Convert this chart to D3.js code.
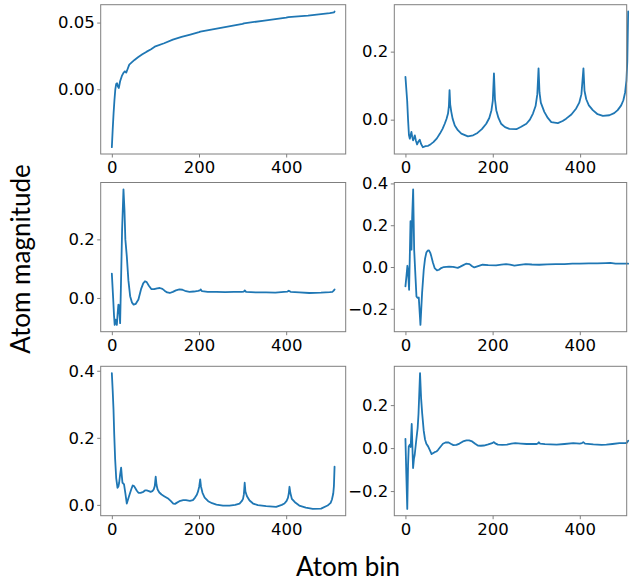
<!DOCTYPE html>
<html>
<head>
<meta charset="utf-8">
<script src="https://cdn.jsdelivr.net/npm/d3@7/dist/d3.min.js"></script>
<style>
  html, body { margin: 0; padding: 0; background: #fff; }
  svg { display: block; }
</style>
</head>
<body>
<svg id="chart" width="638" height="583"></svg>
<script>
// ---------- DATA ----------
const xTicks = [0, 200, 400];

const atom1 = [[0,-0.0434],[2,-0.030],[4,-0.018],[6,-0.008],[8,0.000],[10,0.0040],[12,0.0045],[14,0.0020],[16,0.0010],[19,0.0060],[23,0.0100],[27,0.0125],[30,0.0135],[33,0.0125],[36,0.0150],[40,0.0185],[45,0.0200],[52,0.0220],[60,0.0240],[70,0.0262],[80,0.0282],[90,0.0300],[100,0.0322],[120,0.0345],[140,0.0372],[160,0.0392],[180,0.0410],[200,0.0428],[203,0.0432],[250,0.0460],[300,0.0490],[303,0.0494],[350,0.0515],[400,0.0537],[405,0.0541],[450,0.0552],[500,0.0570],[510,0.0576],[511,0.0583]];
const atom1Ticks = [0.00, 0.05];

const atom2 = [[0,0.126],[2,0.090],[4,0.055],[6,0.0],[8,-0.045],[10,-0.056],[12,-0.045],[13.7,-0.036],[15.5,-0.050],[17.5,-0.061],[20,-0.052],[21.5,-0.046],[24,-0.062],[26.7,-0.073],[29,-0.066],[32.8,-0.059],[36,-0.072],[40,-0.081],[46,-0.078],[52,-0.077],[58,-0.072],[64,-0.066],[72,-0.055],[79,-0.041],[85,-0.027],[90,-0.012],[94,0.002],[97.5,0.018],[99.5,0.040],[101,0.087],[102.5,0.045],[105,0.023],[108,0.003],[113,-0.017],[120,-0.031],[128,-0.041],[143,-0.049],[155,-0.046],[165,-0.039],[175,-0.028],[185,-0.012],[192,0.005],[197,0.028],[200,0.055],[202.7,0.136],[205,0.060],[208,0.028],[213,0.005],[219,-0.012],[228,-0.022],[238,-0.027],[254,-0.028],[265,-0.021],[277,-0.012],[285,0.000],[292,0.018],[298,0.040],[302,0.075],[304.8,0.151],[307,0.080],[310,0.050],[318,0.023],[326,0.005],[334,-0.007],[349,-0.010],[360,-0.004],[368,0.003],[380,0.015],[391,0.033],[398,0.050],[403,0.075],[407.6,0.151],[410,0.085],[414,0.060],[420,0.042],[429,0.028],[440,0.016],[452,0.011],[467,0.013],[478,0.019],[486,0.028],[494,0.042],[499,0.057],[503,0.080],[506,0.115],[508,0.170],[510,0.318]];
const atom2Ticks = [0.0, 0.2];

const atom3 = [[0,0.083],[3,0.000],[5,-0.060],[6.5,-0.092],[8.5,-0.074],[11.5,-0.092],[13.5,-0.050],[15,-0.023],[16.5,-0.025],[19,-0.086],[21,0.050],[23.5,0.230],[26.7,0.371],[29,0.300],[31,0.200],[34.3,0.143],[38,0.060],[42,0.006],[46,-0.015],[50,-0.023],[55,-0.020],[61,-0.005],[67,0.030],[72,0.050],[76,0.057],[80,0.054],[85,0.042],[91,0.030],[97,0.030],[104,0.033],[110,0.034],[116,0.031],[121,0.025],[127,0.019],[133,0.017],[140,0.021],[147,0.026],[155,0.029],[162,0.028],[170,0.023],[178,0.021],[188,0.022],[198,0.024],[202,0.026],[204,0.029],[207,0.023],[220,0.021],[240,0.021],[260,0.020],[280,0.021],[298,0.021],[303,0.022],[305,0.026],[308,0.021],[330,0.019],[354,0.019],[375,0.018],[395,0.021],[403,0.022],[406,0.025],[410,0.021],[430,0.019],[453,0.017],[480,0.018],[500,0.020],[506,0.021],[509,0.025],[511,0.029]];
const atom3Ticks = [0.0, 0.2];

const atom4 = [[0,-0.093],[2.5,-0.040],[4.5,0.006],[6,-0.020],[8.4,-0.109],[10,0.050],[11.6,0.219],[12.8,0.150],[13.9,0.083],[15.4,0.235],[17.7,0.372],[20,0.083],[23,-0.045],[25.3,-0.141],[28,-0.148],[30.6,-0.146],[34.4,-0.277],[38.2,-0.124],[42,-0.013],[45,0.040],[48,0.069],[51,0.078],[54,0.080],[57,0.068],[59.4,0.051],[63,0.022],[67,-0.005],[72.4,-0.016],[77,-0.013],[82,-0.005],[88,0.000],[94,0.001],[100,0.002],[109,0.001],[115,-0.002],[120,-0.004],[126,0.002],[131.6,0.008],[139,0.016],[147,0.014],[153,0.004],[158,-0.002],[165,0.003],[177,0.011],[190,0.009],[208,0.008],[220,0.011],[231,0.014],[240,0.011],[250,0.007],[262,0.010],[276,0.014],[290,0.012],[307,0.011],[325,0.013],[345,0.014],[365,0.014],[383,0.016],[400,0.016],[421,0.017],[440,0.017],[459,0.019],[470,0.020],[482,0.016],[495,0.016],[511,0.016]];
const atom4Ticks = [-0.2, 0.0, 0.2, 0.4];

const atom5 = [[0,0.393],[2,0.340],[3.8,0.285],[5.5,0.210],[7.6,0.136],[10,0.080],[13,0.051],[15,0.055],[16.8,0.066],[19,0.090],[21.3,0.111],[23,0.085],[24.4,0.066],[26,0.064],[28,0.061],[31,0.035],[34.3,0.004],[38,0.020],[42,0.036],[45,0.048],[48,0.058],[51,0.056],[53.3,0.051],[57,0.043],[61,0.036],[66,0.036],[72.4,0.039],[76,0.043],[80,0.043],[85,0.041],[89,0.039],[93,0.041],[96,0.046],[98.5,0.056],[100.6,0.084],[102.5,0.060],[105,0.046],[109,0.037],[114,0.031],[120,0.026],[125,0.022],[130,0.018],[135,0.012],[141,0.004],[145,0.003],[148.6,0.006],[155,0.011],[163.8,0.014],[170,0.014],[179,0.012],[186,0.014],[190.5,0.021],[195,0.030],[198,0.041],[200.5,0.055],[202.7,0.076],[204.5,0.055],[208,0.036],[213,0.022],[221,0.011],[230,0.005],[240,0.001],[255,-0.002],[270,-0.002],[283,0.000],[293,0.004],[298,0.011],[301,0.018],[303,0.032],[304.8,0.066],[306.5,0.040],[310,0.026],[316,0.013],[324,0.004],[335,-0.001],[354,-0.004],[377,-0.006],[390,0.000],[396,0.004],[401,0.012],[404,0.021],[406,0.034],[407.6,0.054],[409.5,0.036],[413,0.018],[420,0.008],[430,-0.002],[445,-0.008],[461,-0.012],[480,-0.011],[495,-0.002],[502,0.006],[505,0.016],[508,0.034],[509.5,0.056],[511,0.114]];
const atom5Ticks = [0.0, 0.2, 0.4];

const atom6 = [[0,0.043],[2,-0.120],[4.2,-0.283],[6,-0.080],[7.6,0.008],[10,0.016],[12,0.005],[14.4,0.112],[17.5,-0.093],[19.5,-0.050],[21.3,-0.031],[25,0.040],[28,0.093],[30,0.160],[33.5,0.349],[36,0.230],[38.5,0.160],[42,0.080],[45,0.040],[48,0.020],[52,0.008],[56,-0.010],[60,-0.028],[63,-0.024],[67,-0.019],[71,-0.016],[75,-0.008],[80,0.005],[86,0.020],[92,0.026],[98,0.027],[104,0.020],[110,0.014],[117,0.015],[124,0.021],[132,0.031],[140,0.036],[146,0.036],[153,0.031],[160,0.020],[166,0.012],[173,0.011],[180,0.012],[190,0.017],[199,0.023],[203,0.028],[206,0.022],[212,0.016],[222,0.015],[233,0.016],[243,0.021],[252,0.023],[265,0.021],[278,0.019],[290,0.019],[301,0.019],[304,0.022],[306,0.027],[309,0.021],[320,0.018],[333,0.017],[347,0.016],[365,0.019],[385,0.023],[400,0.021],[405,0.023],[408,0.028],[412,0.021],[431,0.017],[450,0.015],[461,0.016],[475,0.019],[491,0.023],[505,0.023],[508,0.025],[511,0.034]];
const atom6Ticks = [-0.2, 0.0, 0.2];

const xLabel = "Atom bin";
const yLabel = "Atom magnitude";

// ---------- LAYOUT ----------
// frame box (x0..x1) and the pixel span of the padded x-domain (r0..r1)
const cols = [
  {x0: 100.7, x1: 345.7, r0: 100.7, r1: 345.7},
  {x0: 394.3, x1: 626.7, r0: 394.3, r1: 639.3}
];
const rows = [{y0: 4.7, y1: 154}, {y0: 182.5, y1: 331.7}, {y0: 366.3, y1: 515.7}];

const panels = [
  {data: atom1, ticks: atom1Ticks, fmt: ".2f", r: 0, c: 0},
  {data: atom2, ticks: atom2Ticks, fmt: ".1f", r: 0, c: 1},
  {data: atom3, ticks: atom3Ticks, fmt: ".1f", r: 1, c: 0},
  {data: atom4, ticks: atom4Ticks, fmt: ".1f", r: 1, c: 1},
  {data: atom5, ticks: atom5Ticks, fmt: ".1f", r: 2, c: 0},
  {data: atom6, ticks: atom6Ticks, fmt: ".1f", r: 2, c: 1}
];

const svg = d3.select("#chart");
const tickFont = "'DejaVu Sans', sans-serif";
const tickSize = 16.5;
const spineColor = "#7f7f7f";

function pad(ext) {
  const m = (ext[1] - ext[0]) * 0.05;
  return [ext[0] - m, ext[1] + m];
}

panels.forEach((p, i) => {
  const col = cols[p.c], row = rows[p.r];
  const xExt = pad(d3.extent(p.data, d => d[0]));
  const yExt = pad(d3.extent(p.data, d => d[1]));
  const x = d3.scaleLinear().domain(xExt).range([col.r0, col.r1]);
  const y = d3.scaleLinear().domain(yExt).range([row.y1, row.y0]);

  const g = svg.append("g");

  const line = d3.line().x(d => x(d[0])).y(d => y(d[1])).curve(d3.curveLinear);
  g.append("path")
    .datum(p.data)
    .attr("fill", "none")
    .attr("stroke", "#1f77b4")
    .attr("stroke-width", 1.8)
    .attr("stroke-linejoin", "round")
    .attr("stroke-linecap", "round")
    .attr("d", line);

  // frame
  g.append("rect")
    .attr("x", col.x0).attr("y", row.y0)
    .attr("width", col.x1 - col.x0).attr("height", row.y1 - row.y0)
    .attr("fill", "none").attr("stroke", spineColor).attr("stroke-width", 1);

  const fmt = d3.format(p.fmt);
  const minusFmt = v => fmt(v).replace("-", "\u2212");

  const xa = g.append("g").attr("transform", `translate(0,${row.y1})`)
    .call(d3.axisBottom(x).tickValues(xTicks).tickSize(3.5).tickPadding(4).tickFormat(d3.format("d")));
  const ya = g.append("g").attr("transform", `translate(${col.x0},0)`)
    .call(d3.axisLeft(y).tickValues(p.ticks).tickSize(3.5).tickPadding(2.5).tickFormat(minusFmt));

  [xa, ya].forEach(a => {
    a.select(".domain").remove();
    a.attr("font-family", null).attr("font-size", null);
    a.selectAll(".tick line").attr("stroke", spineColor).attr("stroke-width", 1);
    a.selectAll(".tick text")
      .attr("fill", "#000")
      .style("font-family", tickFont)
      .style("font-size", tickSize + "px");
  });
});

// axis labels
svg.append("text")
  .attr("x", 348).attr("y", 576)
  .attr("text-anchor", "middle")
  .style("font-family", "Lato, sans-serif")
  .style("font-size", "26px")
  .attr("fill", "#000")
  .text(xLabel);

svg.append("text")
  .attr("transform", "translate(30,259) rotate(-90)")
  .attr("text-anchor", "middle")
  .style("font-family", "Lato, sans-serif")
  .style("font-size", "26px")
  .attr("fill", "#000")
  .text(yLabel);
</script>
</body>
</html>
